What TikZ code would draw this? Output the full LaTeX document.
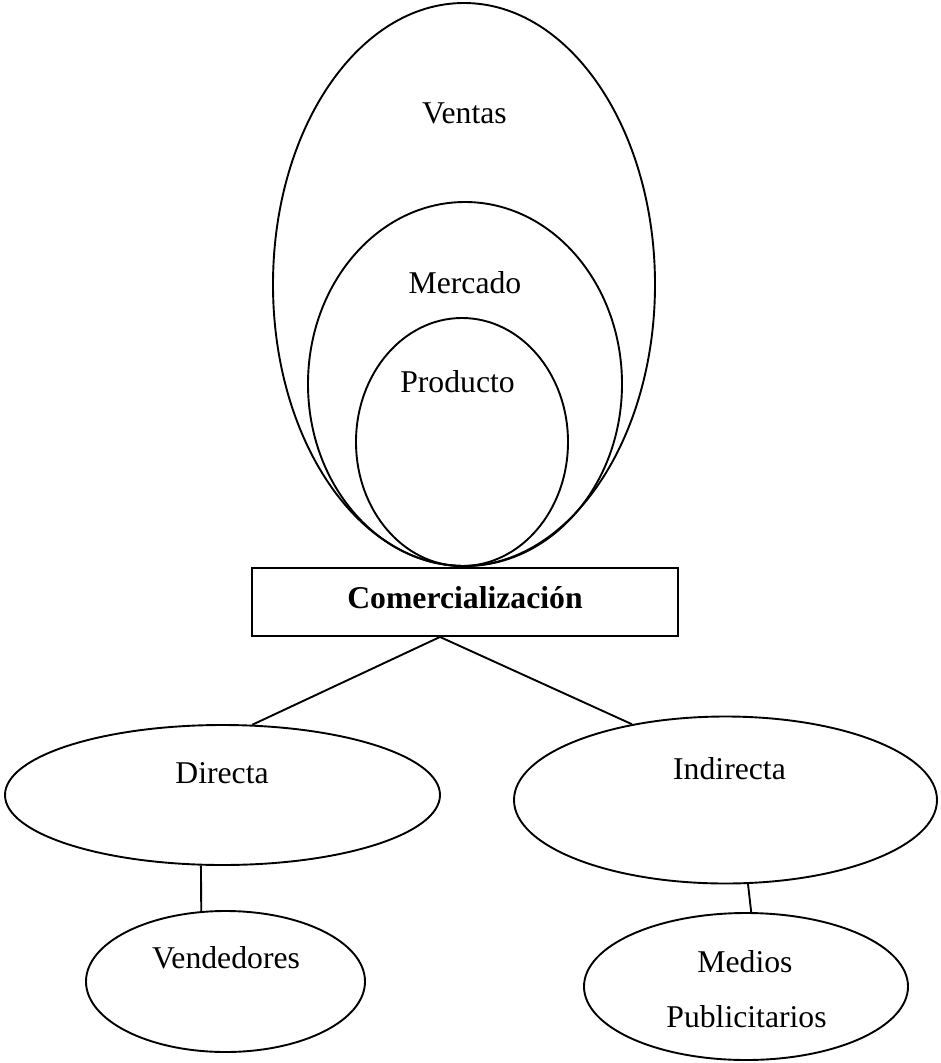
\documentclass[tikz,border=0pt]{standalone}
\usepackage{fontspec}
\setmainfont{Liberation Serif}
\usetikzlibrary{shapes.geometric}
\begin{document}
\begin{tikzpicture}[x=1pt, y=-1pt, line width=1.9pt,
  oval/.style={draw, ellipse, inner sep=0pt},
  lbl/.style={anchor=base, inner sep=0pt, font=\fontsize{31.7}{38}\selectfont},
  titlebox/.style={draw, rectangle, inner sep=0pt, text height=12pt, text depth=0pt,
    font=\fontsize{31.7}{38}\selectfont\bfseries}]
\useasboundingbox (0,0) rectangle (940,1063);

% nested ovals resting on the box
\node[oval, minimum width=382pt, minimum height=563pt] (ventas) at (464,284.5) {};
\node[oval, minimum width=314pt, minimum height=364pt] (mercado) at (465,384) {};
\node[oval, minimum width=212pt, minimum height=248pt] (producto) at (462,442) {};
\node[lbl] (ventasT) at (464.5,123) {Ventas};
\node[lbl] (mercadoT) at (465,293) {Mercado};
\node[lbl] (productoT) at (457.5,392) {Producto};

% central box
\node[titlebox, minimum width=426pt, minimum height=68pt] (com) at (465,602) {Comercialización};

% branches
\node[oval, minimum width=435pt, minimum height=140pt] (dir) at (222.5,795) {};
\node[oval, minimum width=423pt, minimum height=167pt] (ind) at (725.5,800) {};
\node[oval, minimum width=279pt, minimum height=141pt] (vend) at (225.5,981.5) {};
\node[oval, minimum width=324pt, minimum height=147pt] (med) at (746,986.5) {};
\node[lbl] (dirT) at (222,783) {Directa};
\node[lbl] (indT) at (729.5,779) {Indirecta};
\node[lbl] (vendT) at (226,968) {Vendedores};
\node[lbl] (medT1) at (745,972) {Medios};
\node[lbl] (medT2) at (746.5,1027) {Publicitarios};

% connectors
\draw ([xshift=-25pt]com.south) -- (dir.67);
\draw ([xshift=-25pt]com.south) -- (ind.141.9);
\draw (dir.253.2) -- (vend.109.4);
\draw (ind.285.8) -- (med.86.1);
\end{tikzpicture}
\end{document}
